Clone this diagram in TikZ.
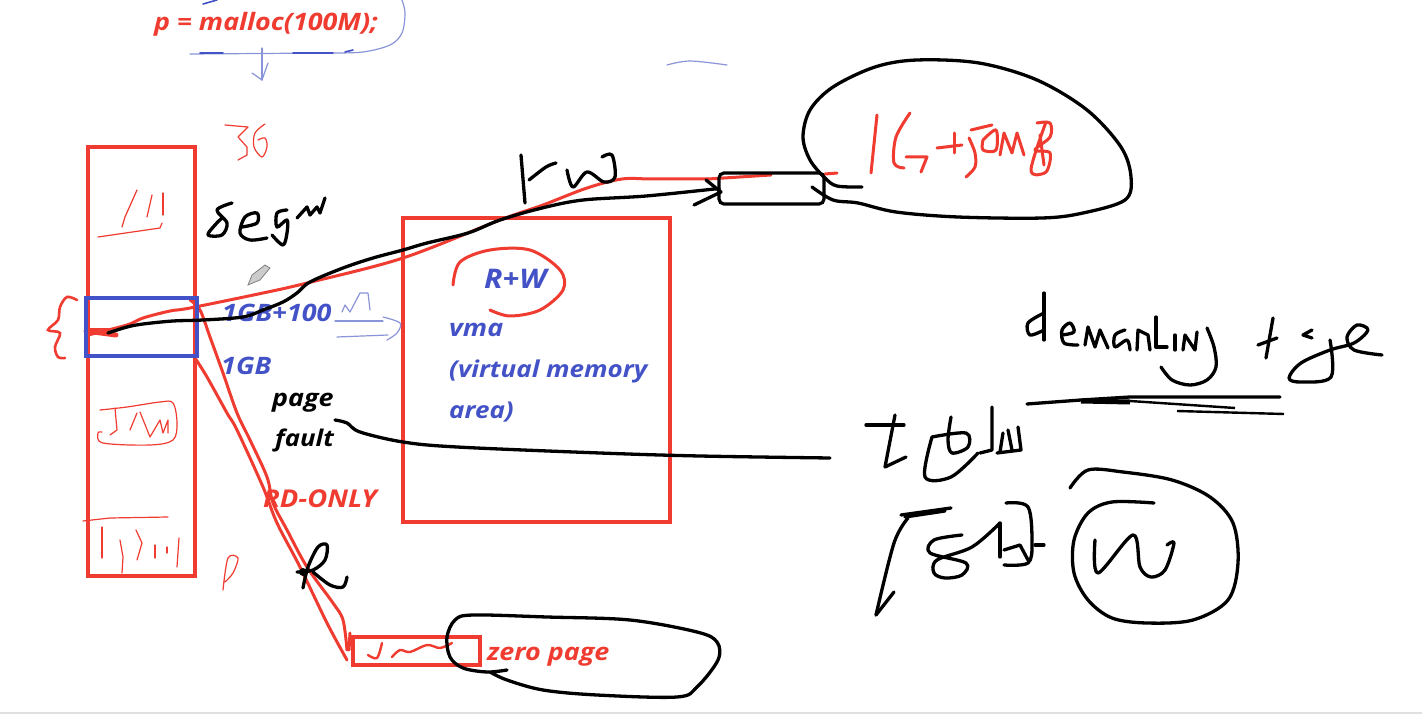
\documentclass[tikz,border=0pt]{standalone}
\usepackage{fontspec}
\setmainfont{Open Sans}
\newfontfamily\lbl[FakeStretch=1.12]{Open Sans}
\definecolor{rd}{HTML}{F03B30}
\definecolor{bl}{HTML}{4352C6}
\definecolor{lb}{HTML}{8A94D8}
\definecolor{lr}{HTML}{E8685C}
\tikzset{
 redbox/.style={draw=rd,line width=4pt,inner sep=0pt,outer sep=0pt,anchor=north west},
 bluebox/.style={draw=bl,line width=4pt,inner sep=0pt,outer sep=0pt,anchor=north west},
 inkbox/.style={draw=black,line width=3.2pt,rounded corners=5pt,inner sep=0pt,outer sep=0pt,anchor=north west},
 lab/.style={font=\lbl\bfseries\itshape\fontsize{24}{28}\selectfont,inner sep=0pt,anchor=west},
 k/.style={draw=black,line width=3.3pt,line cap=round,line join=round},
 r/.style={draw=rd,line width=3pt,line cap=round,line join=round},
 rt/.style={draw=rd,line width=1.2pt,line cap=round,line join=round},
 b/.style={draw=lb,line width=1.2pt,line cap=round,line join=round},
 bd/.style={draw=bl,line width=1.6pt,line cap=round,line join=round}
}
\newcommand\hw[2]{\draw[#1] plot[smooth,tension=.55] coordinates {#2};}
\newcommand\pl[2]{\draw[#1] plot coordinates {#2};}
\begin{document}
\begin{tikzpicture}[x=1pt,y=-1pt]
\useasboundingbox (0,0) rectangle (1422,714);
\fill[white] (0,0) rectangle (1422,714);
\fill[black!12] (0,712) rectangle (1422,714);
% boxes
\node[redbox,minimum width=107pt,minimum height=429pt] (mem) at (88,147) {};
\node[redbox,minimum width=267pt,minimum height=304pt] (vma) at (403,218) {};
\node[redbox,line width=3.4pt,minimum width=127pt,minimum height=28pt] (zero) at (353,637) {};
% labels
\node[lab,text=rd] (malloc) at (154,24) {p = malloc(100M);};
\node[lab,text=bl] (l1) at (222,313) {1GB+100};
\node[lab,text=bl] (l2) at (221,366) {1GB};
\node[lab,text=black] (pg) at (272,403) {page};
\node[lab,text=black,font=\lbl\bfseries\itshape\fontsize{23}{28}\selectfont] (fl) at (275,440) {fault};
\node[lab,text=rd,font=\lbl\bfseries\itshape\fontsize{24.5}{28}\selectfont] (ro) at (263,499) {RD-ONLY};
\node[lab,text=bl,font=\lbl\bfseries\itshape\fontsize{27}{30}\selectfont] (rw) at (484,279) {R+W};
\node[lab,text=bl] (v1) at (449,330) {vma};
\node[lab,text=bl,font=\lbl\bfseries\itshape\fontsize{23.2}{28}\selectfont] (v2) at (449,371) {(virtual memory};
\node[lab,text=bl,font=\lbl\bfseries\itshape\fontsize{23.2}{28}\selectfont] (v3) at (449,412) {area)};
\node[lab,text=rd] (zp) at (487,657) {zero page};
% named ends
\coordinate (pstart) at (108,333);
\coordinate (rstart) at (88,335);
\coordinate (fstart) at (335,420);
\coordinate (fend) at (830,458);
\coordinate (zin) at (347,660);
\coordinate (zup) at (350,633);
\coordinate (blueout) at (190,300);
\coordinate (blueout2) at (195,358);
% red connectors
\hw{r}{(rstart) (127,325) (143,318) (170,311) (190,308) (263,293) (307,283) (403,258) (500,220) (543,205) (587,188) (622,179) (652,179) (708,179)}
\pl{r}{(708,179) (771,175)}
\pl{r}{(825,174) (837,173)}
\hw{r}{(blueout) (200,310) (210,337) (223,373) (237,413) (250,440) (267,477) (273,503) (287,530) (307,567) (333,603) (343,620) (347,650)}
\hw{r}{(blueout2) (207,377) (227,413) (237,430) (263,487) (277,523) (300,567) (327,623) (zin)}
\pl{r}{(zup) (349,650)}
\draw[rd,line width=5pt,line cap=round] (86,331) -- (116,335);
\draw[rd,line width=2pt] (84,329) -- (110,329);
% blue box on top of memory
\node[bluebox,minimum width=111pt,minimum height=58pt] (blue) at (86,298) {};
% black connectors
\node[inkbox,minimum width=105pt,minimum height=31pt] (small) at (719,173) {};
\hw{k}{(pstart) (127,327) (143,324) (173,321) (203,320) (243,317) (263,310) (283,302) (297,293) (310,282) (343,268) (373,258) (403,250) (427,243) (468,233) (500,220) (542,208) (583,200) (646,196) (small.west)}
\pl{k}{(706,180) (721,192) (694,205)}
\hw{k}{(fstart) (347,423) (360,432) (403,442) (457,447) (600,453) (700,456) (fend)}
% R
\hw{k}{(303,588) (308,567) (318,547) (327,545) (325,560) (313,570) (297,572)}
\hw{k}{(313,572) (330,585) (343,587) (347,577)}
\fill[black] (303,572) circle (4pt);
% R+W circle
\hw{r}{(453,285) (460,262) (490,250) (530,250) (560,270) (563,290) (540,310) (510,316) (490,310)}
% top blue
\pl{bd}{(203,4) (217,0)}
\hw{b}{(402,0) (405,13) (402,33) (390,45) (363,52) (330,53)}
\pl{b}{(330,53) (190,54)}
\pl{bd}{(200,53) (223,53)}
\pl{bd}{(293,53) (333,53)}
\pl{bd}{(345,52) (353,50)}
\pl{b}{(262,48) (262,80)}
\pl{b}{(252,73) (262,80) (268,63)}
\hw{b}{(667,65) (690,61) (727,65)}
% blue arrow near vma
\pl{b}{(342,312) (345,305) (350,312) (360,293) (368,293) (370,310)}
\pl{b}{(335,321) (383,321)}
\hw{b}{(383,317) (400,323) (397,333) (387,340)}
\pl{b}{(337,337) (388,335)}
% 36, p
\pl{rt}{(225,125) (248,127) (238,137) (247,147) (247,155) (238,160)}
\hw{rt}{(265,124) (255,133) (254,147) (262,157) (267,147) (265,138) (258,140)}
\hw{rt}{(223,590) (228,558) (238,558) (233,573) (225,582)}
% brace
\hw{{draw=rd,line width=2.6pt,line cap=round}}{(77,300) (67,297) (60,307) (58,320) (48,330) (60,333) (55,347) (58,357) (65,358)}
% scribbles in memory
\pl{rt}{(137,190) (125,217) (122,227)}
\pl{rt}{(147,217) (152,195)}
\pl{rt}{(163,193) (163,215)}
\pl{rt}{(98,237) (160,228) (162,223)}
\hw{rt}{(100,410) (127,407) (160,402) (173,403) (177,423) (173,440) (150,445) (103,443) (98,433) (102,432)}
\pl{rt}{(115,408) (117,430) (110,435)}
\pl{rt}{(137,413) (130,430)}
\pl{rt}{(140,412) (150,437) (160,420) (163,433) (168,420) (168,433)}
\pl{rt}{(83,521) (110,518) (168,517)}
\pl{rt}{(102,527) (102,558)}
\pl{rt}{(120,540) (123,557) (122,573)}
\pl{rt}{(136,530) (142,543) (137,560)}
\pl{rt}{(155,545) (155,558)}
\pl{rt}{(167,547) (167,553)}
\pl{rt}{(179,538) (177,567)}
% scribble in zero box
\hw{{draw=rd,line width=2.4pt,line cap=round}}{(368,655) (377,658) (382,643)}
\hw{{draw=rd,line width=2.4pt,line cap=round}}{(392,657) (400,650) (410,652) (427,645) (440,648) (452,643)}
% pencil cursor
\draw[gray,fill=black!20,line width=.8pt] (248,285) -- (252,275) -- (265,265) -- (270,268) -- (260,280) -- cycle;
% seg...
\hw{k}{(232,203) (217,210) (227,223) (222,235) (208,235) (215,225) (222,218)}
\hw{k}{(242,227) (257,223) (257,213) (245,217) (240,233) (250,240) (267,238)}
\hw{k}{(287,210) (277,213) (277,227) (287,220) (287,233) (283,245) (272,235)}
\pl{k}{(297,218) (307,207) (310,215) (317,207) (320,213) (325,198)}
% rw
\pl{k}{(521,155) (525,203)}
\hw{k}{(529,180) (546,167) (556,163)}
\hw{k}{(567,170) (573,187) (587,172) (604,182) (615,177) (612,155) (602,157)}
% big blob
\hw{k}{(862,187) (837,186) (825,178) (810,160) (803,137) (810,110) (833,87) (875,67) (917,60) (979,63) (1037,80) (1087,110) (1121,147) (1131,177) (1125,200) (1083,213) (1042,218) (958,217) (896,212) (858,203) (833,200) (812,187)}
% 1G+50MB
\pl{r}{(877,115) (871,173)}
\hw{r}{(910,113) (896,137) (894,163) (904,168)}
\pl{r}{(906,157) (927,157) (921,172)}
\pl{r}{(937,148) (962,145)}
\pl{r}{(954,133) (954,153)}
\pl{r}{(971,130) (992,125)}
\hw{r}{(969,138) (975,153) (975,167) (966,177)}
\hw{r}{(983,140) (996,130) (996,150) (983,150) (983,140)}
\pl{r}{(1000,155) (1004,133) (1012,153) (1017,133) (1024,155)}
\hw{r}{(1046,122) (1031,170) (1046,172) (1050,153) (1035,150) (1050,137) (1050,123) (1037,123)}
\pl{r}{(1040,135) (1044,165)}
% zero blob
\hw{k}{(507,670) (487,672) (463,668) (450,657) (447,637) (455,620) (473,615) (547,617) (630,620) (697,632) (717,642) (718,660) (697,687) (677,697) (597,695) (543,690) (507,680) (490,672)}
% demanding
\hw{k}{(1044,313) (1028,323) (1030,335) (1044,330)}
\pl{k}{(1044,293) (1044,340)}
\hw{k}{(1062,335) (1074,332) (1070,323) (1062,330) (1064,343) (1078,345)}
\pl{k}{(1085,345) (1088,327) (1095,347) (1100,330) (1108,348)}
\hw{k}{(1125,330) (1115,335) (1115,347) (1127,340) (1130,350)}
\pl{k}{(1137,350) (1138,330) (1148,335) (1150,350)}
\pl{k}{(1156,317) (1156,347) (1167,347)}
\pl{k}{(1175,335) (1175,350)}
\pl{k}{(1183,350) (1185,335) (1195,350) (1197,332)}
\hw{k}{(1207,328) (1214,347) (1216,367) (1207,380) (1190,385) (1172,380) (1161,367)}
\pl{k}{(1273,318) (1266,358)}
\pl{k}{(1258,345) (1277,338)}
\pl{k}{(1312,330) (1303,335) (1312,338)}
\hw{k}{(1330,340) (1331,377) (1301,382) (1289,378) (1301,363) (1330,350) (1354,343) (1368,330) (1357,325) (1347,337) (1354,350) (1382,355)}
% underlines
\pl{k}{(1027,404) (1081,400) (1130,397) (1280,397)}
\draw[black,line width=5pt] (1081,401) -- (1130,402);
\pl{{draw=black,line width=2.4pt}}{(1130,401) (1235,408)}
\pl{{draw=black,line width=2.4pt}}{(1177,411) (1284,414)}
% address
\pl{k}{(866,425) (904,425)}
\pl{k}{(895,415) (885,467) (906,457)}
\hw{k}{(932,437) (966,433) (968,447) (952,453) (948,440) (951,417)}
\hw{k}{(932,437) (925,477) (951,477) (978,453)}
\pl{k}{(992,407) (992,450) (980,453)}
\pl{k}{(1003,433) (1000,452)}
\pl{k}{(1018,427) (1021,450) (997,453)}
\pl{k}{(1008,430) (1012,450)}
% second word
\pl{k}{(901,515) (951,508)}
\pl{k}{(905,517) (945,511)}
\hw{k}{(908,518) (894,543) (876,615)}
\pl{k}{(876,615) (894,592)}
\hw{k}{(962,535) (934,540) (930,553) (966,563) (962,575) (945,578) (934,573) (937,560) (972,547) (1000,523)}
\pl{k}{(1000,523) (1000,557)}
\hw{k}{(1006,503) (1028,507) (1032,543) (1028,563) (1004,565)}
\pl{k}{(1004,550) (1020,545) (1028,560)}
\pl{k}{(1035,545) (1044,545)}
% circle W
\hw{k}{(1070,488) (1088,470) (1123,472) (1172,480) (1210,497) (1233,523) (1238,563) (1228,600) (1193,620) (1147,623) (1112,618) (1088,600) (1074,573) (1074,540) (1088,513) (1112,502) (1154,503)}
\hw{k}{(1095,540) (1098,573) (1133,535) (1140,567) (1151,577) (1165,570) (1174,543) (1167,545)}
\end{tikzpicture}
\end{document}
